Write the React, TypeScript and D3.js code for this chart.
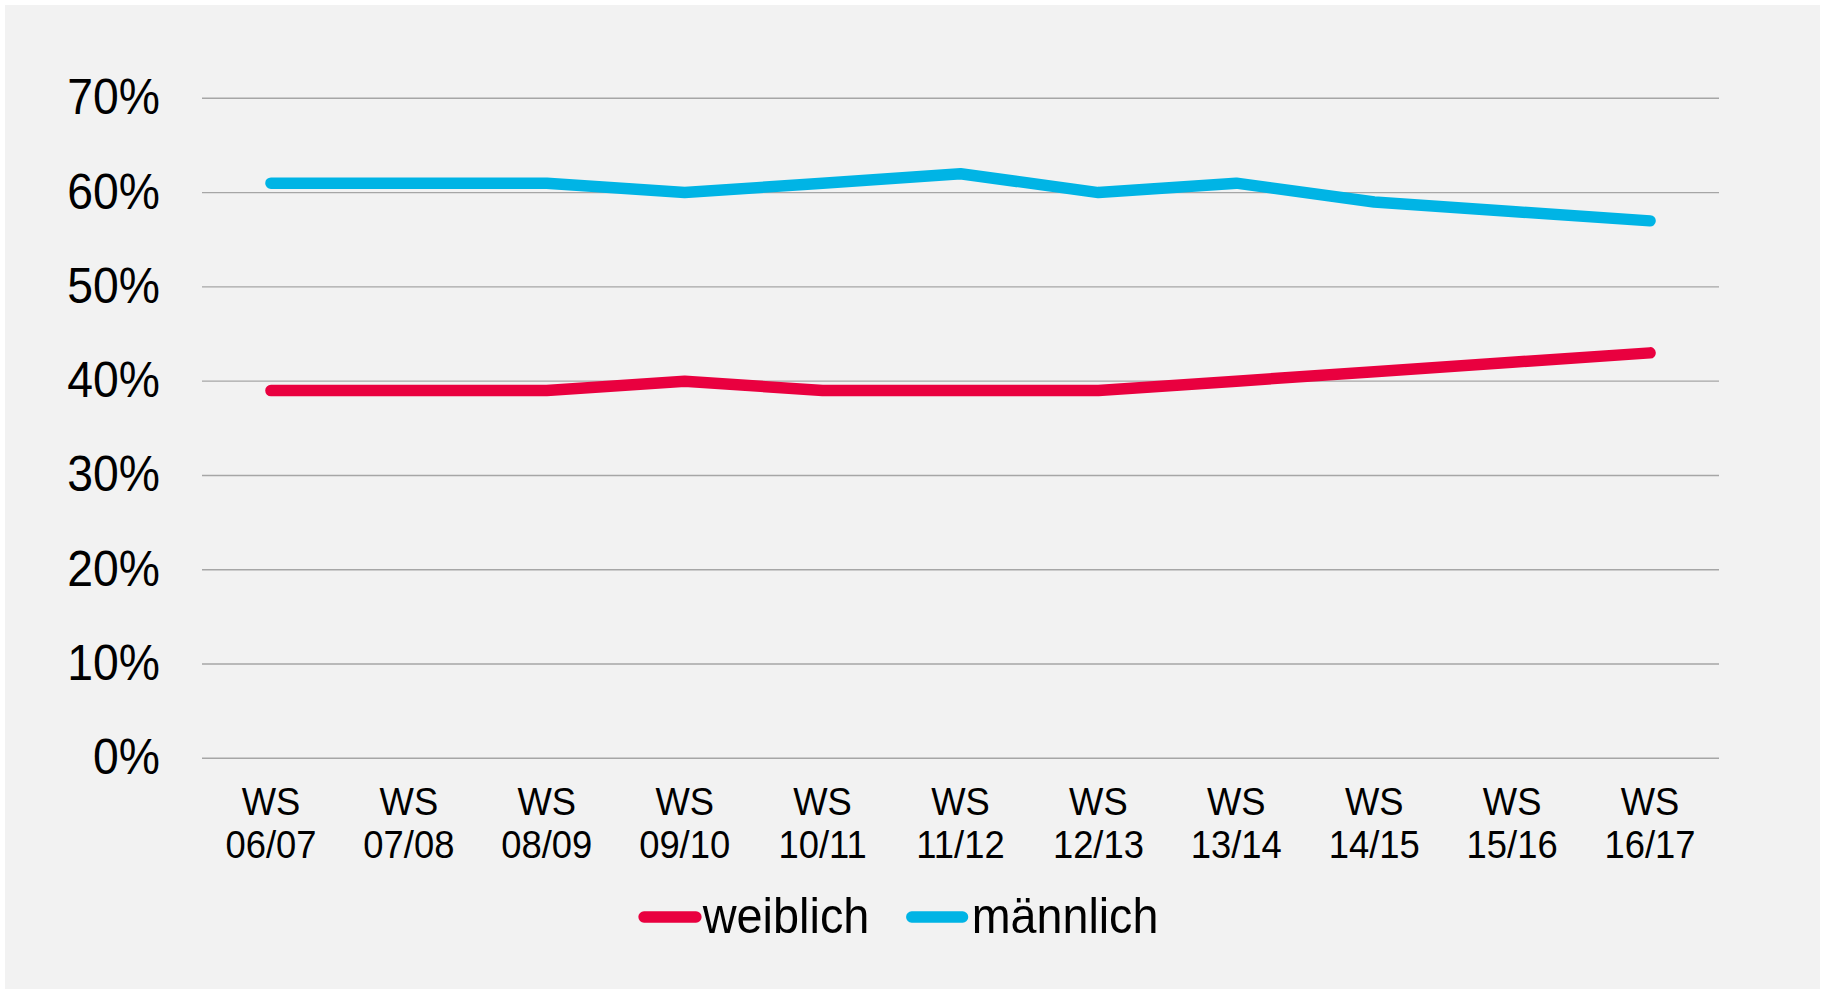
import React from "react";
import * as d3 from "d3";

const categories: string[][] = [
  ["WS", "06/07"], ["WS", "07/08"], ["WS", "08/09"], ["WS", "09/10"], ["WS", "10/11"],
  ["WS", "11/12"], ["WS", "12/13"], ["WS", "13/14"], ["WS", "14/15"], ["WS", "15/16"], ["WS", "16/17"],
];
const weiblich: number[] = [39, 39, 39, 40, 39, 39, 39, 40, 41, 42, 43];
const maennlich: number[] = [61, 61, 61, 60, 61, 62, 60, 61, 59, 58, 57];
const yTicks: number[] = [0, 10, 20, 30, 40, 50, 60, 70];
const seriesNames = ["weiblich", "männlich"];
const seriesColors = ["#E9003F", "#00B4E5"];

const W = 1825;
const H = 989;
const FONT = "'Liberation Sans', Arial, Helvetica, sans-serif";
const SX = 0.945;

export default function App() {
  const keys = categories.map((c) => c.join(" "));
  const x = d3.scaleBand<string>().domain(keys).range([202, 1719]).paddingInner(0).paddingOuter(0);
  const y = d3.scaleLinear().domain([0, 70]).range([758.3, 98.3]);
  const cx = (i: number) => (x(keys[i]) as number) + x.bandwidth() / 2;
  const line = d3
    .line<number>()
    .x((_, i) => cx(i))
    .y((d) => y(d))
    .curve(d3.curveLinear);
  const series = [weiblich, maennlich];

  const legendItems = [
    { x1: 638.3, x2: 701.7, tx: 702.7, tw: 166.7 },
    { x1: 906, x2: 968.3, tx: 971.7, tw: 186.7 },
  ];
  const sc = (ax: number) => `translate(${ax},0) scale(${SX},1) translate(${-ax},0)`;

  return (
    <svg
      width={W}
      height={H}
      style={{ position: "absolute", left: 0, top: 0, display: "block" }}
      fontFamily={FONT}
    >
      <rect x={0} y={0} width={W} height={H} fill="#ffffff" />
      <rect x={5} y={5} width={1815} height={984} fill="#F2F2F2" />
      {yTicks.map((t) => (
        <g key={t}>
          <line x1={202} x2={1719} y1={y(t)} y2={y(t)} stroke="#A6A6A6" strokeWidth={1.4} />
          <text x={160} y={y(t) + 16} textAnchor="end" fontSize={49} fill="#000" transform={sc(160)}>
            {t}%
          </text>
        </g>
      ))}
      {categories.map((c, i) => (
        <g key={keys[i]} transform={sc(cx(i))}>
          <text x={cx(i)} y={815} textAnchor="middle" fontSize={38.5} fill="#000">
            {c[0]}
          </text>
          <text x={cx(i)} y={858.3} textAnchor="middle" fontSize={38.5} fill="#000">
            {c[1]}
          </text>
        </g>
      ))}
      {series.map((s, k) => (
        <path
          key={seriesNames[k]}
          d={line(s) as string}
          fill="none"
          stroke={seriesColors[k]}
          strokeWidth={11.5}
          strokeLinecap="round"
          strokeLinejoin="round"
        />
      ))}
      {legendItems.map((l, k) => (
        <g key={seriesNames[k]}>
          <line
            x1={l.x1 + 5.7}
            x2={l.x2 - 5.7}
            y1={917}
            y2={917}
            stroke={seriesColors[k]}
            strokeWidth={11.3}
            strokeLinecap="round"
          />
          <text
            x={l.tx}
            y={933.3}
            fontSize={50}
            fill="#000"
            textLength={l.tw}
            lengthAdjust="spacingAndGlyphs"
          >
            {seriesNames[k]}
          </text>
        </g>
      ))}
    </svg>
  );
}
